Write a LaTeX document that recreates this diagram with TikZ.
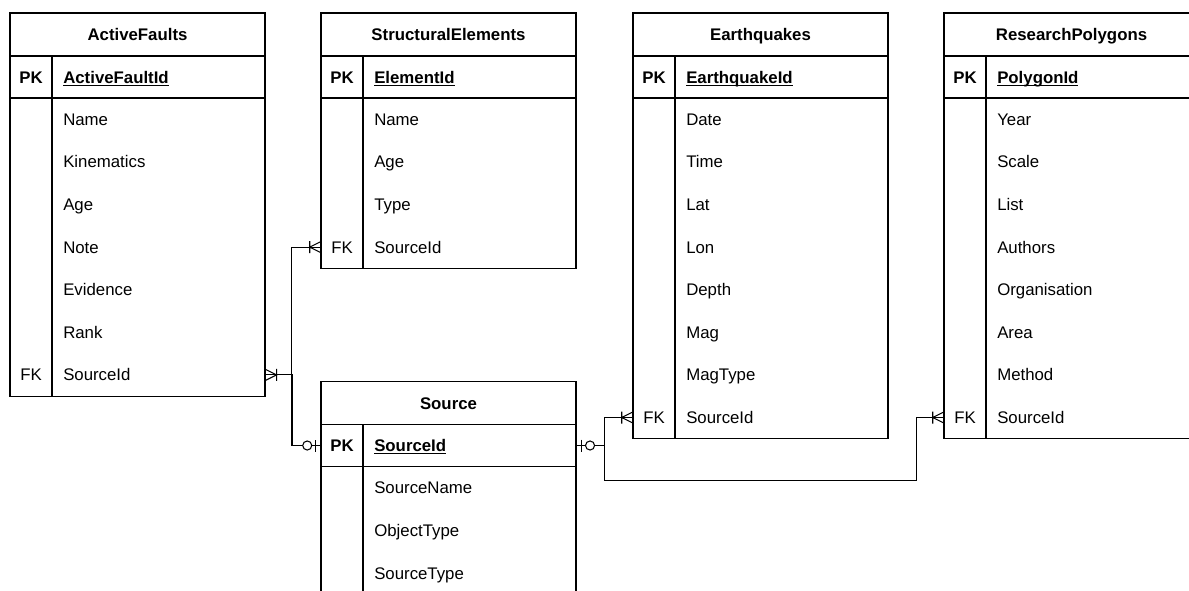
\documentclass[tikz,border=0pt]{standalone}
\usepackage{fontspec}
\setmainfont{Liberation Sans}
\newcommand\pkname[1]{\underline{\smash{#1}}}

\begin{document}
\begin{tikzpicture}[x=0.75pt,y=-0.75pt,
  frame/.style={line width=1pt,draw=black},
  conn/.style={line width=0.8pt,draw=black},
  title/.style={font=\fontsize{12.6}{15}\selectfont\bfseries,text height=9pt,text depth=0pt,inner sep=0pt},
  keyc/.style={font=\fontsize{12.6}{15}\selectfont,minimum width=31.5pt,minimum height=31.95pt,inner sep=0pt,text height=9pt,text depth=0pt},
  pkkey/.style={keyc,font=\fontsize{12.6}{15}\selectfont\bfseries},
  fld/.style={font=\fontsize{12.6}{15}\selectfont,anchor=west,text width=143.25pt,align=left,inner xsep=8.25pt,inner ysep=0pt,minimum height=31.95pt,text height=9pt,text depth=0pt},
  pkfld/.style={fld,font=\fontsize{12.6}{15}\selectfont\bfseries},
  crowmany/.pic={\draw[conn] (0,-5.5) -- (11,0) -- (0,5.5) (11,-6) -- (11,6);},
  zeroone/.pic={\draw[conn] (5,-6) -- (5,6); \draw[conn,fill=white] (13.5,0) circle[radius=3.4pt];}]
\useasboundingbox (0,0) rectangle (1189,590);
\clip (0,0) rectangle (1189,590);
% ActiveFaults
\draw[frame] (10,13) rectangle (265,396.2);
\draw[frame] (10,56) -- (265,56) (10,98) -- (265,98) (52,56) -- (52,396.2);
\node[title] (af) at (137.5,34.5) {ActiveFaults};
\node[pkkey] (af-k) at (31,77) {PK};
\node[pkfld] (af-id) at (52,77) {\pkname{ActiveFaultId}};
\foreach \fname [count=\i] in {Name,Kinematics,Age,Note,Evidence,Rank,SourceId}
  {\node[fld] (af-f\i) at (52,{76.7+42.6*\i}) {\fname};}
\node[keyc] (af-k7) at (31,374.9) {FK};
% StructuralElements
\draw[frame] (321,13) rectangle (576,268.4);
\draw[frame] (321,56) -- (576,56) (321,98) -- (576,98) (363,56) -- (363,268.4);
\node[title] (se) at (448.5,34.5) {StructuralElements};
\node[pkkey] (se-k) at (342,77) {PK};
\node[pkfld] (se-id) at (363,77) {\pkname{ElementId}};
\foreach \fname [count=\i] in {Name,Age,Type,SourceId}
  {\node[fld] (se-f\i) at (363,{76.7+42.6*\i}) {\fname};}
\node[keyc] (se-k4) at (342,247.1) {FK};
% Earthquakes
\draw[frame] (633,13) rectangle (888,438.8);
\draw[frame] (633,56) -- (888,56) (633,98) -- (888,98) (675,56) -- (675,438.8);
\node[title] (eq) at (760.5,34.5) {Earthquakes};
\node[pkkey] (eq-k) at (654,77) {PK};
\node[pkfld] (eq-id) at (675,77) {\pkname{EarthquakeId}};
\foreach \fname [count=\i] in {Date,Time,Lat,Lon,Depth,Mag,MagType,SourceId}
  {\node[fld] (eq-f\i) at (675,{76.7+42.6*\i}) {\fname};}
\node[keyc] (eq-k8) at (654,417.5) {FK};
% ResearchPolygons
\draw[frame] (944,13) rectangle (1199,438.8);
\draw[frame] (944,56) -- (1199,56) (944,98) -- (1199,98) (986,56) -- (986,438.8);
\node[title] (rp) at (1071.5,34.5) {ResearchPolygons};
\node[pkkey] (rp-k) at (965,77) {PK};
\node[pkfld] (rp-id) at (986,77) {\pkname{PolygonId}};
\foreach \fname [count=\i] in {Year,Scale,List,Authors,Organisation,Area,Method,SourceId}
  {\node[fld] (rp-f\i) at (986,{76.7+42.6*\i}) {\fname};}
\node[keyc] (rp-k8) at (965,417.5) {FK};
% Source
\draw[frame] (321,381.5) rectangle (576,600);
\draw[frame] (321,424.5) -- (576,424.5) (321,466.5) -- (576,466.5) (363,424.5) -- (363,600);
\node[title] (src) at (448.5,403) {Source};
\node[pkkey] (src-k) at (342,445.5) {PK};
\node[pkfld] (src-id) at (363,445.5) {\pkname{SourceId}};
\foreach \fname [count=\i] in {SourceName,ObjectType,SourceType}
  {\node[fld] (src-f\i) at (363,{445.2+42.6*\i}) {\fname};}
% relations
\draw[conn] (af-f7.east) -- ++(27,0) |- (src-k.west);
\draw[conn] (se-k4.west) -- ++(-29,0) |- (src-k.west);
\draw[conn] (src-id.east) -- ++(28,0) |- (eq-k8.west);
\draw[conn] (src-id.east) -- ++(28,0) -- ++(0,35) -- ++(312,0) |- (rp-k8.west);
\pic at (af-f7.east) {crowmany};
\pic[rotate=180] at (se-k4.west) {crowmany};
\pic[rotate=180] at (src-k.west) {zeroone};
\pic at (src-id.east) {zeroone};
\pic[rotate=180] at (eq-k8.west) {crowmany};
\pic[rotate=180] at (rp-k8.west) {crowmany};
\end{tikzpicture}
\end{document}
